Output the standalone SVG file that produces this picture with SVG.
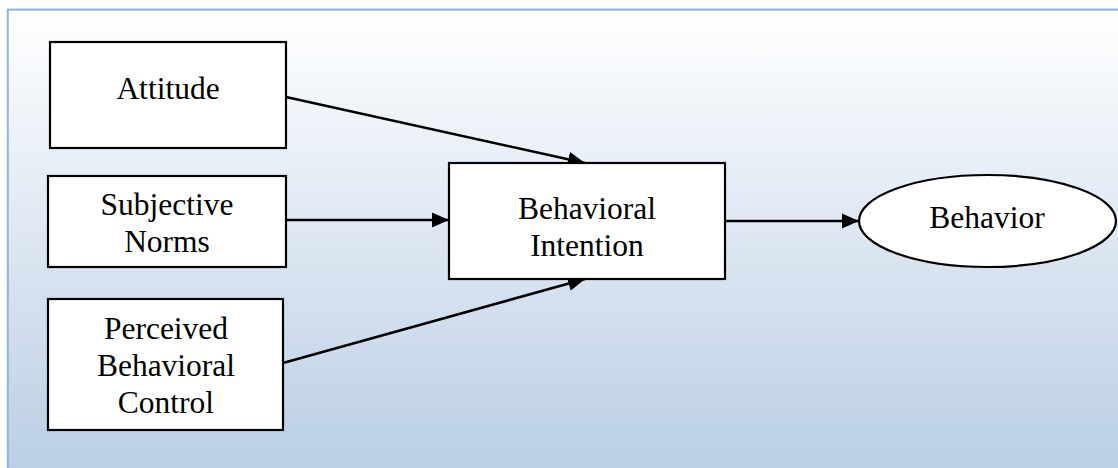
<svg xmlns="http://www.w3.org/2000/svg" width="1118" height="468" viewBox="0 0 1118 468">
<style>
.node{fill:#FFFFFF;stroke:#000000;stroke-width:2.2}
.lbl{font-family:'Liberation Serif','Times New Roman',Tinos,'DejaVu Serif',serif;font-size:31.5px;fill:#000000;text-anchor:middle}
.edge{stroke:#000000;stroke-width:2.5;fill:none;marker-end:url(#arr)}
</style>
<defs>
<linearGradient id="bg" x1="0" y1="0" x2="0" y2="1">
<stop offset="0" stop-color="#FFFFFF"/>
<stop offset="1" stop-color="#B9CDE5"/>
</linearGradient>
<marker id="arr" markerUnits="userSpaceOnUse" markerWidth="17" markerHeight="17" viewBox="0 0 17 17" refX="17" refY="8.5" orient="auto">
<path d="M0,1 L17,8.5 L0,16 Z" fill="#000000"/>
</marker>
</defs>
<rect x="0" y="0" width="1118" height="468" fill="#FFFFFF"/>
<rect x="7.8" y="9.6" width="1125" height="470" fill="url(#bg)" stroke="#95B3D7" stroke-width="2"/>
<g id="connectors">
<line class="edge" x1="286" y1="97" x2="585" y2="163"/>
<line class="edge" x1="286" y1="220" x2="449" y2="220"/>
<line class="edge" x1="283" y1="363" x2="585" y2="279"/>
<line class="edge" x1="725" y1="221" x2="859" y2="221"/>
</g>
<g id="attitude">
<rect class="node" x="50" y="42" width="236" height="106"/>
<text class="lbl" x="168" y="99" font-family="Liberation Serif, serif">Attitude</text>
</g>
<g id="subjective-norms">
<rect class="node" x="48" y="176" width="238" height="91"/>
<text class="lbl" x="167" y="215" font-family="Liberation Serif, serif">Subjective</text>
<text class="lbl" x="167" y="252" font-family="Liberation Serif, serif">Norms</text>
</g>
<g id="perceived-behavioral-control">
<rect class="node" x="48" y="299" width="235" height="131"/>
<text class="lbl" x="166" y="339" font-family="Liberation Serif, serif">Perceived</text>
<text class="lbl" x="166" y="376" font-family="Liberation Serif, serif">Behavioral</text>
<text class="lbl" x="166" y="413" font-family="Liberation Serif, serif">Control</text>
</g>
<g id="behavioral-intention">
<rect class="node" x="449" y="163" width="276" height="116"/>
<text class="lbl" x="587" y="219" font-family="Liberation Serif, serif">Behavioral</text>
<text class="lbl" x="587" y="256" font-family="Liberation Serif, serif">Intention</text>
</g>
<g id="behavior">
<ellipse class="node" cx="987.5" cy="221" rx="128.5" ry="46"/>
<text class="lbl" x="987" y="228" font-family="Liberation Serif, serif">Behavior</text>
</g>
</svg>
